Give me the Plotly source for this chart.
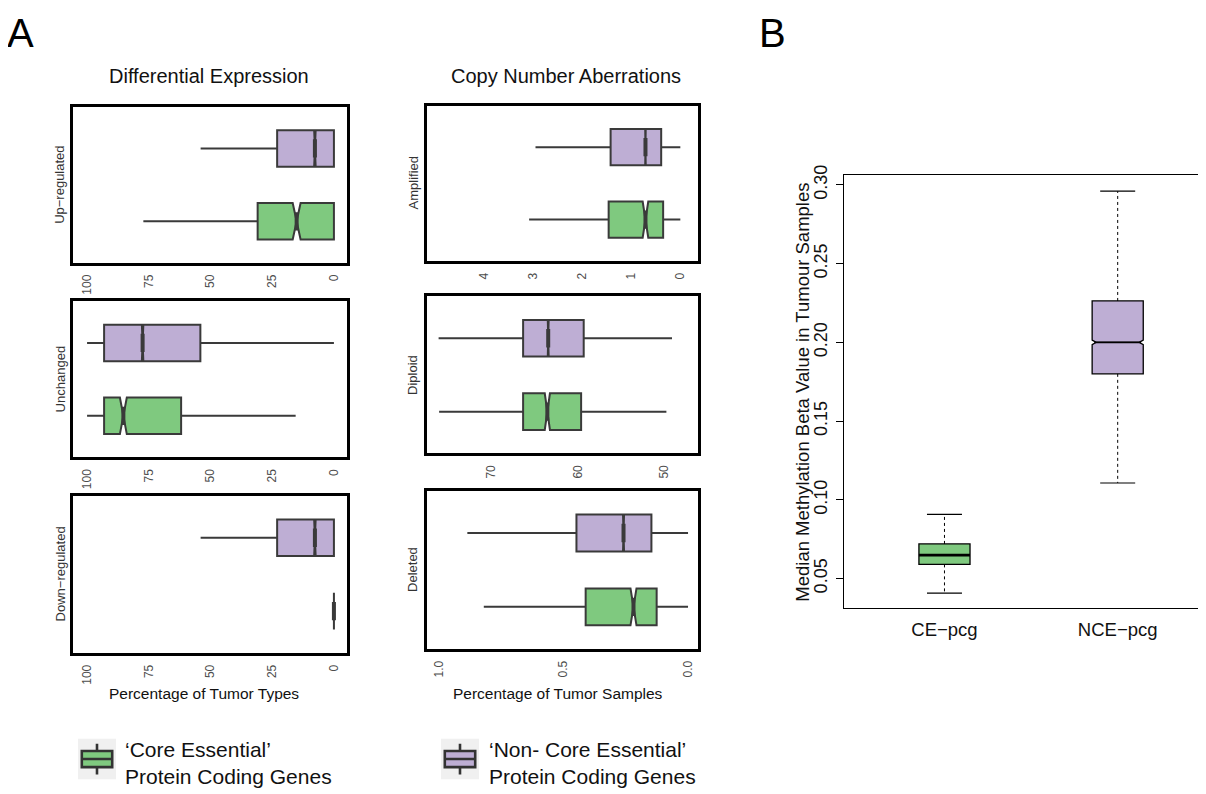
import plotly.graph_objects as go

# ---------------- data ----------------
# every stats list is [min, q1, median, q3, max]
group_names = ["‘Core Essential’<br>Protein Coding Genes", "‘Non- Core Essential’<br>Protein Coding Genes"]

de_rows = ["Up−regulated", "Unchanged", "Down−regulated"]
de_ce = [[0, 0, 15.1, 30.9, 77.2], [15.5, 61.9, 85.3, 93.1, 100.0], [0, 0, 0, 0, 0]]
de_nce = [[0, 0, 7.7, 23.0, 54.0], [0, 54.1, 77.5, 93.1, 100.0], [0, 0, 7.7, 23.0, 54.0]]
de_ce_notch = [1.6, 1.4, 0.0]
de_nce_notch = [0.3, 0.3, 0.3]
de_ticks = [100, 75, 50, 25, 0]

cna_rows = ["Amplified", "Diploid", "Deleted"]
cna_ce = [[0, 0.35, 0.71, 1.46, 3.08], [49.75, 59.6, 63.5, 66.3, 76.0], [0, 0.126, 0.219, 0.411, 0.82]]
cna_nce = [[0, 0.39, 0.71, 1.42, 2.95], [49.1, 59.3, 63.4, 66.3, 76.06], [0, 0.147, 0.259, 0.448, 0.886]]
cna_ce_notch = [0.057, 0.3, 0.012]
cna_nce_notch = [0.005, 0.05, 0.002]
cna_ticks = [[4, 3, 2, 1, 0], [70, 60, 50], [1.0, 0.5, 0.0]]
cna_ticktext = [["4", "3", "2", "1", "0"], ["70", "60", "50"], ["1.0", "0.5", "0.0"]]

meth_groups = ["CE−pcg", "NCE−pcg"]
meth_stats = [[0.0408, 0.059, 0.0649, 0.072, 0.0908], [0.1107, 0.180, 0.200, 0.2263, 0.296]]
meth_notch = [0.0, 0.0015]
meth_ticks = [0.05, 0.10, 0.15, 0.20, 0.25, 0.30]
meth_ticktext = ["0.05", "0.10", "0.15", "0.20", "0.25", "0.30"]

legend_glyph = [0.12, 0.3, 0.5, 0.7, 0.88]

# ---------------- style ----------------
W, H = 1206, 794
OFF = 8  # page body margin
FONT = "Liberation Sans, Arial, Helvetica, sans-serif"
GREEN = "#7FC97F"
PURPLE = "#BEAED4"
EDGE = "#3a3a3a"


def X(px):
    return (px - OFF) / W


def Y(py):
    return 1 - (py - OFF) / H


def dom_x(a, b):
    return [X(a), min(1.0, X(b))]


def dom_y(top, bottom):
    return [Y(bottom), Y(top)]


fig = go.Figure()
layout = dict(
    width=W, height=H, margin=dict(l=0, r=0, t=0, b=0),
    paper_bgcolor="white", plot_bgcolor="white", showlegend=False,
    font=dict(family=FONT, color="#222"), boxmode="overlay",
)
annotations = []
shapes = []


def note(text, x, y, size, color="#111", angle=0, xanchor="center", align="center"):
    annotations.append(dict(text=text, x=X(x), y=Y(y), xref="paper", yref="paper",
                            xanchor=xanchor, yanchor="middle", align=align,
                            textangle=angle, showarrow=False,
                            font=dict(size=size, color=color, family=FONT)))


# panel A geometry
colA_x = [(73, 347), (427, 698)]
rows_left = [(98, 256), (295, 453), (492, 651)]
rows_right = [(97, 254), (290, 449), (487, 647)]
ranges_right = [[5.16, -0.36], [77.4, 46.1], [1.048, -0.04]]


def add_hbox(ax, pos, s, ns, color, nw=0.5):
    fig.add_trace(go.Box(
        orientation="h", y=[pos], lowerfence=[s[0]], q1=[s[1]], median=[s[2]],
        q3=[s[3]], upperfence=[s[4]], notched=True, notchspan=[ns], notchwidth=nw,
        width=0.5, whiskerwidth=0, fillcolor=color, boxpoints=False,
        line=dict(color=EDGE, width=2), xaxis="x" + ax, yaxis="y" + ax, hoverinfo="skip"))
    # thick median bar (drawn across the notch waist)
    fig.add_trace(go.Box(
        orientation="h", y=[pos], lowerfence=[s[2]], q1=[s[2]], median=[s[2]],
        q3=[s[2]], upperfence=[s[2]], width=0.25, whiskerwidth=0,
        fillcolor="rgba(0,0,0,0)", boxpoints=False,
        line=dict(color=EDGE, width=4), xaxis="x" + ax, yaxis="y" + ax, hoverinfo="skip"))


def axA(idx, xd, yd, rng, tv, tt):
    k = "" if idx == 1 else str(idx)
    layout["xaxis" + k] = dict(
        domain=dom_x(*xd), anchor="y" + k, range=rng, showline=True, mirror=True,
        linewidth=3, linecolor="black", showgrid=False, zeroline=False, ticks="",
        tickvals=tv, ticktext=tt, tickangle=-90, ticklabelstandoff=4,
        tickfont=dict(size=12, color="#4d4d4d", family=FONT))
    layout["yaxis" + k] = dict(
        domain=dom_y(*yd), anchor="x" + k, range=[0.43, 2.57], showline=True, mirror=True,
        linewidth=3, linecolor="black", showgrid=False, zeroline=False,
        showticklabels=False, ticks="")


idx = 1
for r in range(3):
    ax = "" if idx == 1 else str(idx)
    axA(idx, colA_x[0], rows_left[r], [105.7, -5.3], de_ticks, [str(t) for t in de_ticks])
    add_hbox(ax, 1, de_ce[r], de_ce_notch[r], GREEN)
    add_hbox(ax, 2, de_nce[r], de_nce_notch[r], PURPLE)
    note(de_rows[r], 60, sum(rows_left[r]) / 2, 13, "#333", angle=-90)
    idx += 1
for r in range(3):
    ax = str(idx)
    axA(idx, colA_x[1], rows_right[r], ranges_right[r], cna_ticks[r], cna_ticktext[r])
    add_hbox(ax, 1, cna_ce[r], cna_ce_notch[r], GREEN)
    add_hbox(ax, 2, cna_nce[r], cna_nce_notch[r], PURPLE)
    note(cna_rows[r], 413, sum(rows_right[r]) / 2, 13, "#333", angle=-90)
    idx += 1

# ---------------- panel B ----------------
fill_B = [GREEN, PURPLE]
for i, s in enumerate(meth_stats):
    pos = i + 1
    fig.add_trace(go.Box(
        x=[pos], lowerfence=[s[1]], q1=[s[1]], median=[s[2]], q3=[s[3]], upperfence=[s[3]],
        notched=meth_notch[i] > 0, notchspan=[meth_notch[i]] if meth_notch[i] > 0 else None,
        notchwidth=0.08, width=0.295, whiskerwidth=0, fillcolor=fill_B[i], boxpoints=False,
        line=dict(color="black", width=1.3), xaxis="x7", yaxis="y7", hoverinfo="skip"))
    fig.add_trace(go.Box(
        x=[pos], lowerfence=[s[2]], q1=[s[2]], median=[s[2]], q3=[s[2]], upperfence=[s[2]],
        width=0.295 if meth_notch[i] == 0 else 0.27, whiskerwidth=0,
        fillcolor="rgba(0,0,0,0)", boxpoints=False,
        line=dict(color="black", width=2.6 if meth_notch[i] == 0 else 1.8),
        xaxis="x7", yaxis="y7", hoverinfo="skip"))
    # dashed whiskers
    fig.add_trace(go.Scatter(
        x=[pos, pos, None, pos, pos], y=[s[3], s[4], None, s[1], s[0]], mode="lines",
        line=dict(color="black", width=1, dash="3px,3px"), xaxis="x7", yaxis="y7",
        hoverinfo="skip"))
    # whisker caps
    fig.add_trace(go.Scatter(
        x=[pos, pos], y=[s[0], s[4]], mode="markers",
        marker=dict(symbol="line-ew", size=25, line=dict(color="black", width=1.2)),
        xaxis="x7", yaxis="y7", hoverinfo="skip"))

layout["xaxis7"] = dict(
    domain=dom_x(844, 1206), anchor="y7", range=[0.42, 2.557 - 8 / 169.4], showline=True,
    mirror=True, linewidth=1.2, linecolor="black", showgrid=False, zeroline=False, ticks="",
    tickvals=[1, 2], ticktext=meth_groups, ticklabelstandoff=4,
    tickfont=dict(size=18.5, color="#111", family=FONT))
layout["yaxis7"] = dict(
    domain=dom_y(167, 606), anchor="x7", range=[0.031, 0.3063], showline=True, mirror=True,
    linewidth=1.2, linecolor="black", showgrid=False, zeroline=False, ticks="outside",
    ticklen=7, tickwidth=1, tickcolor="black", tickvals=meth_ticks, ticktext=meth_ticktext,
    tickangle=-90, ticklabelstandoff=2, tickfont=dict(size=18, color="#111", family=FONT))
note("Median Methylation Beta Value in Tumour Samples", 803, 387.5, 18.5, angle=-90)

# ---------------- legend keys ----------------
leg_x = [(78, 116), (441, 479)]
leg_text_x = [123, 487]
for j in range(2):
    k = str(8 + j)
    fig.add_trace(go.Box(
        x=[0], lowerfence=[legend_glyph[0]], q1=[legend_glyph[1]], median=[legend_glyph[2]],
        q3=[legend_glyph[3]], upperfence=[legend_glyph[4]], width=0.8, whiskerwidth=0,
        fillcolor=[GREEN, PURPLE][j], boxpoints=False, line=dict(color="#333", width=2.6),
        xaxis="x" + k, yaxis="y" + k, hoverinfo="skip"))
    layout["xaxis" + k] = dict(domain=dom_x(*leg_x[j]), anchor="y" + k, range=[-0.5, 0.5],
                               visible=False, fixedrange=True)
    layout["yaxis" + k] = dict(domain=dom_y(738, 779), anchor="x" + k, range=[0, 1],
                               visible=False, fixedrange=True)
    shapes.append(dict(type="rect", xref="paper", yref="paper",
                       x0=X(leg_x[j][0]), x1=X(leg_x[j][1]),
                       y0=Y(779), y1=Y(738), fillcolor="#f0f0f0",
                       line=dict(width=0), layer="below"))
    note(group_names[j], leg_text_x[j], 762, 21, xanchor="left", align="left")

# ---------------- titles ----------------
note("A", 20, 23, 40, "black")
note("B", 772, 23, 40, "black")
note("Differential Expression", 209, 67, 20)
note("Copy Number Aberrations", 566, 67, 20)
note("Percentage of Tumor Types", 204, 692, 15.5)
note("Percentage of Tumor Samples", 558, 692, 15.5)

layout["annotations"] = annotations
layout["shapes"] = shapes
fig.update_layout(**layout)
fig.write_html("out.html")
